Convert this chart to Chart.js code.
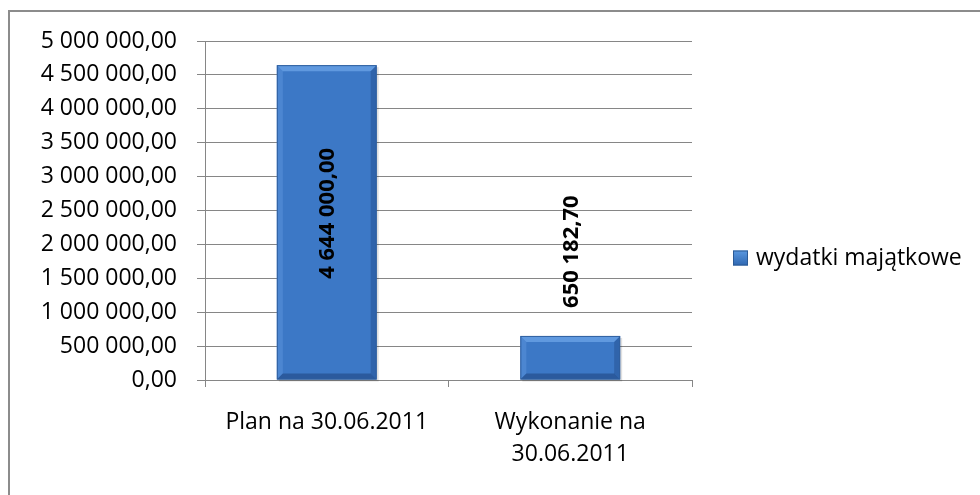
<!DOCTYPE html>
<html lang="pl">
<head>
<meta charset="utf-8">
<title>Wydatki majątkowe</title>
<script src="https://cdn.jsdelivr.net/npm/chart.js@4/dist/chart.umd.min.js"></script>
<style>
  html, body { margin: 0; padding: 0; background: #fff; }
  body { width: 980px; height: 495px; position: relative; overflow: hidden; }
  #frame {
    position: absolute; left: 8px; top: 10px; width: 1000px; height: 520px;
    border-left: 2px solid #8c8c8c; border-top: 2px solid #8c8c8c;
  }
  #chart { position: absolute; left: 0; top: 0; }
</style>
</head>
<body>
<div id="frame"></div>
<canvas id="chart" width="980" height="495"></canvas>
<script>
// ── Data ──────────────────────────────────────────────────────────────────
var categories  = [['Plan na 30.06.2011'], ['Wykonanie na', '30.06.2011']];
var seriesName  = 'wydatki majątkowe';
var seriesValues = [4644000.00, 650182.70];
var yTicks      = [0, 500000, 1000000, 1500000, 2000000, 2500000, 3000000, 3500000, 4000000, 4500000, 5000000];

var FONT = "'Open Sans', 'Noto Sans', sans-serif";

// 4644000 -> "4 644 000,00"
function plNumber(v) {
    var parts = v.toFixed(2).split('.');
    return parts[0].replace(/\B(?=(\d{3})+(?!\d))/g, ' ') + ',' + parts[1];
}

// ── Bar gradient ──────────────────────────────────────────────────────────
function barFill(ctx) {
    var el = ctx.element;
    var c = ctx.chart.ctx;
    if (!el || !isFinite(el.y) || !isFinite(el.base)) return '#3c78c6';
    var g = c.createLinearGradient(0, el.y, 0, el.base);
    g.addColorStop(0, '#417fcd');
    g.addColorStop(1, '#3872c0');
    return g;
}

// ── Bevel + value labels ──────────────────────────────────────────────────
var bevelPlugin = {
    id: 'bevel',
    beforeDatasetsDraw: function(chart) {
        // soft drop shadow under bars
        var c = chart.ctx;
        chart.getDatasetMeta(0).data.forEach(function(bar) {
            var l = bar.x - bar.width / 2;
            c.save();
            c.fillStyle = 'rgba(0,0,0,0.12)';
            c.fillRect(l + 2, bar.y + 2, bar.width, bar.base - bar.y);
            c.restore();
        });
    },
    afterDatasetsDraw: function(chart) {
        var c = chart.ctx;
        var meta = chart.getDatasetMeta(0);
        meta.data.forEach(function(bar) {
            var l = bar.x - bar.width / 2, r = bar.x + bar.width / 2;
            var t = bar.y, b = bar.base, d = 6;
            c.save();
            // top (light)
            c.fillStyle = 'rgba(120,175,240,0.6)';
            c.beginPath(); c.moveTo(l, t); c.lineTo(r, t); c.lineTo(r - d, t + d); c.lineTo(l + d, t + d); c.closePath(); c.fill();
            // left (light)
            c.fillStyle = 'rgba(100,155,225,0.4)';
            c.beginPath(); c.moveTo(l, t); c.lineTo(l + d, t + d); c.lineTo(l + d, b - d); c.lineTo(l, b); c.closePath(); c.fill();
            // right (dark)
            c.fillStyle = 'rgba(30,70,130,0.4)';
            c.beginPath(); c.moveTo(r, t); c.lineTo(r, b); c.lineTo(r - d, b - d); c.lineTo(r - d, t + d); c.closePath(); c.fill();
            // bottom (dark)
            c.fillStyle = 'rgba(25,60,115,0.5)';
            c.beginPath(); c.moveTo(l, b); c.lineTo(r, b); c.lineTo(r - d, b - d); c.lineTo(l + d, b - d); c.closePath(); c.fill();
            c.strokeStyle = '#2f5f9e';
            c.lineWidth = 1;
            c.strokeRect(l + 0.5, t + 0.5, r - l - 1, b - t - 1);
            c.restore();
        });
    }
};

var valueLabels = {
    id: 'valueLabels',
    afterDatasetsDraw: function(chart) {
        var c = chart.ctx;
        var ds = chart.data.datasets[0];
        var meta = chart.getDatasetMeta(0);
        c.save();
        c.font = 'bold 22px ' + FONT;
        c.fillStyle = '#000';
        c.textBaseline = 'middle';
        c.textAlign = 'center';
        meta.data.forEach(function(bar, i) {
            var txt = plNumber(ds.data[i]);
            var w = c.measureText(txt).width;
            var h = bar.base - bar.y;
            var cy;
            if (w + 20 < h) {
                cy = bar.y + h / 2 - 9;
            } else {
                cy = bar.y - 28 - w / 2;
            }
            c.save();
            c.translate(bar.x, cy);
            c.rotate(-Math.PI / 2);
            c.fillText(txt, 0, 1);
            c.restore();
        });
        c.restore();
    }
};

// ── Legend (right side) ───────────────────────────────────────────────────
var sideLegend = {
    id: 'sideLegend',
    afterDraw: function(chart) {
        var c = chart.ctx;
        var ds = chart.data.datasets[0];
        var x = chart.chartArea.right + 41, y = 258, s = 15;
        c.save();
        var g = c.createLinearGradient(x, y - s / 2, x, y + s / 2);
        g.addColorStop(0, '#5a98e0');
        g.addColorStop(1, '#2f68b2');
        c.fillStyle = g;
        c.fillRect(x, y - s / 2, s, s);
        c.strokeStyle = '#2b5a96';
        c.strokeRect(x + 0.5, y - s / 2 + 0.5, s - 1, s - 1);
        c.font = '23px ' + FONT;
        c.fillStyle = '#000';
        c.textBaseline = 'middle';
        c.textAlign = 'left';
        c.fillText(ds.label, x + s + 8, y);
        c.restore();
    }
};

// ── Chart ─────────────────────────────────────────────────────────────────
new Chart(document.getElementById('chart'), {
    type: 'bar',
    data: {
        labels: categories,
        datasets: [{
            label: seriesName,
            data: seriesValues,
            backgroundColor: barFill,
            borderWidth: 0,
            categoryPercentage: 1,
            barPercentage: 0.41
        }]
    },
    options: {
        responsive: false,
        animation: false,
        devicePixelRatio: 1,
        layout: { padding: { top: 41, right: 288, bottom: 0, left: 0 } },
        plugins: {
            legend: { display: false },
            tooltip: { enabled: false }
        },
        scales: {
            x: {
                offset: true,
                grid: {
                    offset: true,
                    drawOnChartArea: false,
                    drawTicks: true,
                    tickLength: 7,
                    color: '#868686'
                },
                border: { color: '#868686', width: 1 },
                ticks: {
                    color: '#000',
                    padding: 20,
                    maxRotation: 0,
                    autoSkip: false,
                    font: { family: FONT, size: 23, lineHeight: 1.38 }
                },
                afterFit: function(scale) { scale.height = 495 - 380; }
            },
            y: {
                min: 0,
                max: 5000000,
                afterBuildTicks: function(scale) {
                    scale.ticks = yTicks.map(function(v) { return { value: v }; });
                },
                grid: {
                    color: '#868686',
                    tickLength: 8,
                    drawTicks: true
                },
                border: { color: '#868686', width: 1 },
                ticks: {
                    color: '#000',
                    padding: 20,
                    font: { family: FONT, size: 23 },
                    callback: function(v) { return plNumber(v); }
                },
                afterFit: function(scale) { scale.width = 205; }
            }
        }
    },
    plugins: [bevelPlugin, valueLabels, sideLegend]
});
</script>
</body>
</html>
